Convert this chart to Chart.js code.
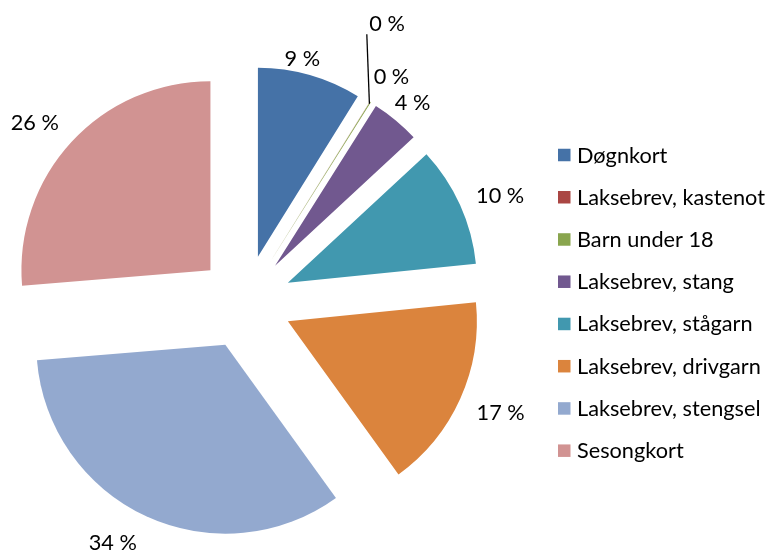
<!DOCTYPE html>
<html>
<head>
<meta charset="utf-8">
<style>
  html, body { margin: 0; padding: 0; background: #ffffff; }
  #wrap { width: 769px; height: 551px; position: relative; }
  canvas { display: block; }
</style>
<script src="https://cdn.jsdelivr.net/npm/chart.js@4.4.1/dist/chart.umd.min.js"></script>
</head>
<body>
<div id="wrap"><canvas id="c" width="769" height="551"></canvas></div>
<script>
// ---- data ----
const categories = [
  'Døgnkort',
  'Laksebrev, kastenot',
  'Barn under 18',
  'Laksebrev, stang',
  'Laksebrev, stågarn',
  'Laksebrev, drivgarn',
  'Laksebrev, stengsel',
  'Sesongkort'
];
const shares = [8.86, 0.02, 0.08, 4.14, 10.3, 16.64, 33.64, 26.3];
const sliceColors = ['#4572A7', '#AA4643', '#89A54E', '#71588F', '#4198AF', '#DB843D', '#93A9CF', '#D19392'];

// ---- label placement (relative to each slice: angle shift in degrees, gap beyond radius in px) ----
const labelShiftDeg = [-3.35, 1.36, -6.03, 0.47, 2.05, -1.1, 4.85, -2.58];
const labelGap = [14.7, 32.5, 77.3, 24.2, 40.4, 42.4, 39, 40.6];
const leaderLines = { 2: { shiftDeg: -9.1, gap: 58.6 } };

const EXPLODE = 47;
const FONT_FAMILY = 'Lato, "Open Sans", sans-serif';

// fit the font so that the longest legend entry matches the reference width
const measureCtx = document.createElement('canvas').getContext('2d');
measureCtx.font = '100px ' + FONT_FAMILY;
const FONT_SIZE = 100 * 188 / measureCtx.measureText('Laksebrev, kastenot').width;
const FONT = FONT_SIZE.toFixed(2) + 'px ' + FONT_FAMILY;

const total = shares.reduce((a, b) => a + b, 0);
const pctText = v => Math.round(v / total * 100) + ' %';

function apexOf(arc) {
  const mid = (arc.startAngle + arc.endAngle) / 2;
  return { mid, x: arc.x + Math.cos(mid) * EXPLODE, y: arc.y + Math.sin(mid) * EXPLODE };
}

const explodePlugin = {
  id: 'explode',
  beforeDatasetDraw(chart, args) {
    const ctx = chart.ctx;
    args.meta.data.forEach(arc => {
      const a = apexOf(arc);
      ctx.save();
      ctx.translate(a.x - arc.x, a.y - arc.y);
      arc.draw(ctx);
      ctx.restore();
    });
    return false;
  }
};

const labelPlugin = {
  id: 'pctLabels',
  afterDatasetsDraw(chart) {
    const ctx = chart.ctx;
    const meta = chart.getDatasetMeta(0);
    const vals = chart.data.datasets[0].data;
    ctx.save();
    ctx.font = FONT;
    ctx.fillStyle = '#000000';
    ctx.textAlign = 'center';
    ctx.textBaseline = 'alphabetic';
    meta.data.forEach((arc, i) => {
      const a = apexOf(arc);
      const R = arc.outerRadius;
      const ang = a.mid + labelShiftDeg[i] * Math.PI / 180;
      const dist = R + labelGap[i];
      const cx = a.x + Math.cos(ang) * dist;
      const cy = a.y + Math.sin(ang) * dist;
      const txt = pctText(vals[i]);
      const m = ctx.measureText(txt);
      ctx.fillText(txt, cx, cy + (m.actualBoundingBoxAscent - m.actualBoundingBoxDescent) / 2);
      const ll = leaderLines[i];
      if (ll) {
        const la = a.mid + ll.shiftDeg * Math.PI / 180;
        ctx.beginPath();
        ctx.strokeStyle = '#000000';
        ctx.lineWidth = 1.3;
        ctx.moveTo(a.x + Math.cos(a.mid) * (R - 2), a.y + Math.sin(a.mid) * (R - 2));
        ctx.lineTo(a.x + Math.cos(la) * (R + ll.gap), a.y + Math.sin(la) * (R + ll.gap));
        ctx.stroke();
      }
    });
    ctx.restore();
  }
};

const LEGEND_BOX_X = 558;
const LEGEND_BOX = 12.5;
const LEGEND_TEXT_X = 577;
const LEGEND_FIRST_Y = 155;
const LEGEND_STEP = 42.24;

const legendPlugin = {
  id: 'sideLegend',
  afterDraw(chart) {
    const ctx = chart.ctx;
    const labels = chart.data.labels;
    const colors = chart.data.datasets[0].backgroundColor;
    ctx.save();
    ctx.font = FONT;
    ctx.textAlign = 'left';
    ctx.textBaseline = 'alphabetic';
    const capH = ctx.measureText('H').actualBoundingBoxAscent;
    labels.forEach((lab, i) => {
      const yc = LEGEND_FIRST_Y + i * LEGEND_STEP;
      ctx.fillStyle = colors[i];
      ctx.fillRect(LEGEND_BOX_X, yc - LEGEND_BOX / 2, LEGEND_BOX, LEGEND_BOX);
      ctx.fillStyle = '#000000';
      ctx.fillText(lab, LEGEND_TEXT_X, yc + capH / 2);
    });
    ctx.restore();
  }
};

new Chart(document.getElementById('c'), {
  type: 'pie',
  data: {
    labels: categories,
    datasets: [{
      data: shares,
      backgroundColor: sliceColors,
      borderWidth: 0,
      hoverBorderWidth: 0,
      hoverOffset: 0,
      offset: 0
    }]
  },
  options: {
    responsive: false,
    animation: false,
    events: [],
    layout: { padding: { left: 56, right: 335, top: 113, bottom: 60 } },
    plugins: {
      legend: { display: false },
      tooltip: { enabled: false }
    }
  },
  plugins: [explodePlugin, labelPlugin, legendPlugin]
});
</script>
</body>
</html>
